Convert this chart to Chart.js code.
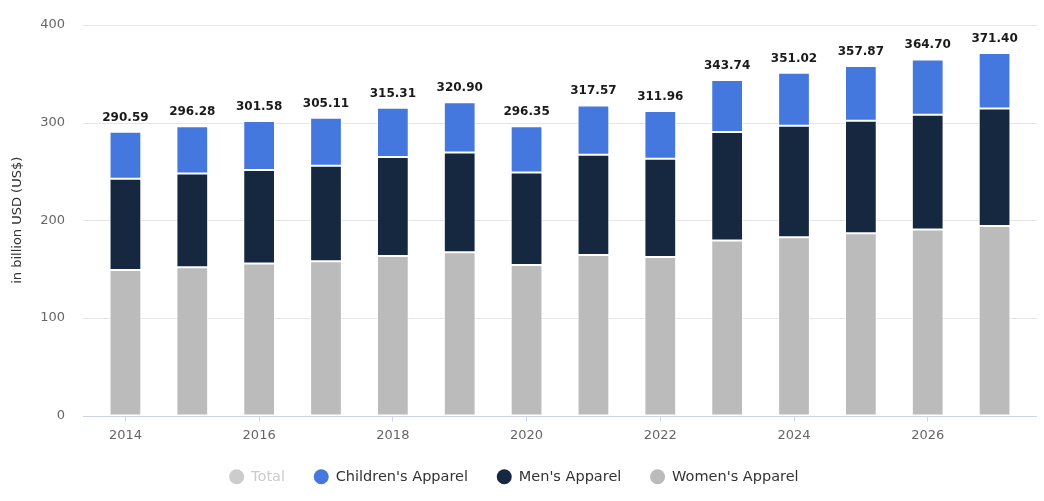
<!doctype html>
<html>
    <head>
        <meta charset="utf-8">
        <title>Apparel market revenue</title>
        <!-- chartjs library -->
        <script src="https://cdn.jsdelivr.net/npm/chart.js@4.4.1/dist/chart.umd.min.js"></script>
        <style>
            body{ margin:0; background:#fff; }
            .chartContainer{ width:1044px; height:501px; }
        </style>
    </head>
    <body>
        <div class="chartContainer">
            <canvas id="apparelChart"></canvas>
        </div>

        <script>
        // chart data
        var years = ['2014','2015','2016','2017','2018','2019','2020','2021','2022','2023','2024','2025','2026','2027'];
        var totalData    = [290.59, 296.28, 301.58, 305.11, 315.31, 320.90, 296.35, 317.57, 311.96, 343.74, 351.02, 357.87, 364.70, 371.40];
        var womenData    = [149.0, 151.8, 155.6, 158.0, 163.4, 167.2, 154.2, 164.4, 162.4, 179.2, 182.6, 186.7, 190.4, 194.2];
        var menData      = [93.4, 96.1, 96.0, 97.7, 101.5, 102.2, 94.7, 102.6, 100.5, 111.1, 114.1, 115.2, 117.6, 120.3];
        var childrenData = [48.2, 48.4, 50.0, 49.4, 50.4, 51.5, 47.5, 50.6, 49.1, 53.4, 54.3, 56.0, 56.7, 56.9];
        var yTicks = [0, 100, 200, 300, 400];

        var fontFamily = "'DejaVu Sans', sans-serif";
        var axisColor = '#ccd6eb';
        var gridColor = '#e6e6e6';
        var gridExtend = 9;

        // grid lines a bit wider than the bars area + total labels
        var extrasPlugin = {
            id: 'extras',
            beforeDatasetsDraw: function(chart){
                var ctx = chart.ctx, area = chart.chartArea, y = chart.scales.y;
                ctx.save();
                ctx.lineWidth = 1;
                yTicks.forEach(function(v){
                    var py = Math.round(y.getPixelForValue(v)) + 0.5;
                    ctx.strokeStyle = v === 0 ? axisColor : gridColor;
                    ctx.beginPath();
                    ctx.moveTo(area.left - gridExtend, py);
                    ctx.lineTo(area.right + gridExtend, py);
                    ctx.stroke();
                });
                ctx.restore();
            },
            afterDatasetsDraw: function(chart){
                var ctx = chart.ctx;
                var top = chart.getDatasetMeta(2);
                ctx.save();
                ctx.font = 'bold 12px ' + fontFamily;
                ctx.fillStyle = '#1a1a1a';
                ctx.textAlign = 'center';
                ctx.textBaseline = 'alphabetic';
                top.data.forEach(function(bar, i){
                    var py = chart.scales.y.getPixelForValue(totalData[i]);
                    ctx.fillText(totalData[i].toFixed(2), bar.x, py - 11);
                });
                ctx.restore();
            }
        };

        var apparelChart = new Chart(document.getElementById('apparelChart'), {
            type: 'bar',
            data: {
                labels: years,
                datasets: [
                    { label: "Women's Apparel", data: womenData, backgroundColor: '#bbbbbb', borderColor: '#ffffff', borderWidth: 1, borderSkipped: false },
                    { label: "Men's Apparel", data: menData, backgroundColor: '#162840', borderColor: '#ffffff', borderWidth: 1, borderSkipped: false },
                    { label: "Children's Apparel", data: childrenData, backgroundColor: '#4478de', borderColor: '#ffffff', borderWidth: 1, borderSkipped: false },
                    { label: 'Total', data: totalData, backgroundColor: '#cccccc', hidden: true, stack: 'total' }
                ]
            },
            options: {
                responsive: true,
                maintainAspectRatio: false,
                animation: false,
                categoryPercentage: 1,
                barPercentage: 0.475,
                layout: { padding: { top: 25, right: 16, bottom: 7, left: 0 } },
                scales: {
                    x: {
                        stacked: true,
                        border: { display: false },
                        grid: {
                            offset: false,
                            drawOnChartArea: false,
                            drawTicks: true,
                            tickLength: 6,
                            color: function(c){ return c.index % 2 ? 'rgba(0,0,0,0)' : axisColor; }
                        },
                        ticks: {
                            autoSkip: false,
                            maxRotation: 0,
                            padding: 6,
                            color: '#666666',
                            font: { family: fontFamily, size: 13 },
                            callback: function(v, i){ return i % 2 ? '' : years[i]; }
                        },
                        afterFit: function(s){ s.height = 25; }
                    },
                    y: {
                        stacked: true,
                        min: 0,
                        max: 400,
                        border: { display: false },
                        // tick marks hidden, their length only pushes the labels left
                        grid: { display: false, drawTicks: true, tickLength: 27 },
                        ticks: {
                            stepSize: 100,
                            padding: 0,
                            color: '#666666',
                            font: { family: fontFamily, size: 13 }
                        },
                        title: {
                            display: true,
                            text: 'in billion USD (US$)',
                            color: '#333333',
                            font: { family: fontFamily, size: 13 },
                            padding: { top: 10, bottom: 0 }
                        },
                        afterFit: function(s){ s.width = 92; }
                    }
                },
                plugins: {
                    tooltip: { enabled: false },
                    legend: {
                        position: 'bottom',
                        reverse: true,
                        labels: {
                            usePointStyle: true,
                            pointStyle: 'circle',
                            boxWidth: 15,
                            boxHeight: 10.6,
                            padding: 29,
                            color: '#333333',
                            font: { family: fontFamily, size: 14.5 },
                            generateLabels: function(chart){
                                return chart.data.datasets.map(function(ds, i){
                                    var isTotal = ds.label === 'Total';
                                    return {
                                        text: ds.label,
                                        fillStyle: ds.backgroundColor,
                                        strokeStyle: ds.backgroundColor,
                                        lineWidth: 0,
                                        pointStyle: 'circle',
                                        hidden: false,
                                        fontColor: isTotal ? '#cccccc' : '#333333',
                                        datasetIndex: i
                                    };
                                });
                            }
                        },
                        onClick: function(){}
                    }
                }
            },
            plugins: [extrasPlugin]
        });
        </script>
    </body>
</html>
